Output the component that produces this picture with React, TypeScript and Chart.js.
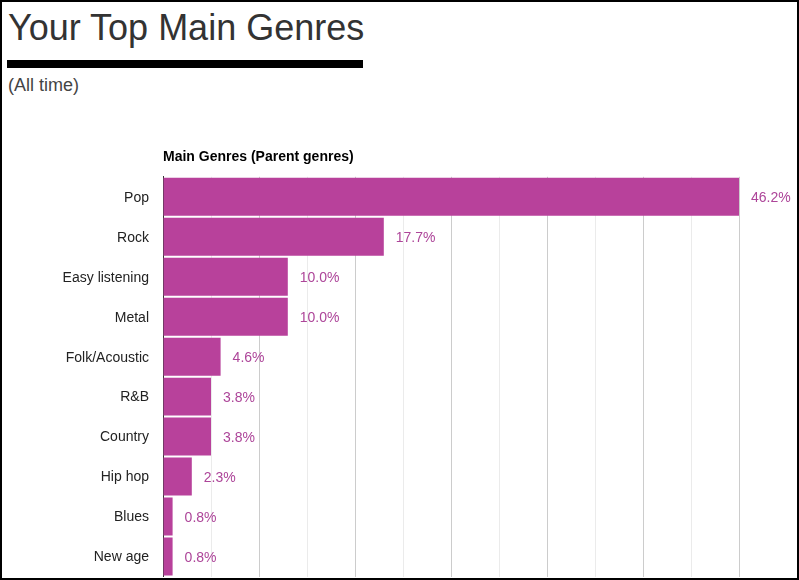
import React, { useEffect, useRef } from "react";
import { Chart, registerables } from "chart.js";

Chart.register(...registerables);

const genres = [
  "Pop",
  "Rock",
  "Easy listening",
  "Metal",
  "Folk/Acoustic",
  "R&B",
  "Country",
  "Hip hop",
  "Blues",
  "New age",
];
const counts = [60, 23, 13, 13, 6, 5, 5, 3, 1, 1];
const axisMax = 60;
const axisStep = 5;

const FONT = '"Liberation Sans", Arial, Helvetica, sans-serif';
const BAR_COLOR = "#b8419b";
const LABEL_COLOR = "#ad4599";

export default function App() {
  const canvasRef = useRef<HTMLCanvasElement | null>(null);

  useEffect(() => {
    document.body.style.margin = "0";
    const canvas = canvasRef.current;
    if (!canvas) return;
    const total = counts.reduce((a, b) => a + b, 0);
    const pctLabels = counts.map((c) => ((c / total) * 100).toFixed(1) + "%");

    const valueLabels = {
      id: "valueLabels",
      afterDatasetsDraw(chart: any) {
        const ctx = chart.ctx;
        const meta = chart.getDatasetMeta(0);
        ctx.save();
        ctx.font = `14px ${FONT}`;
        ctx.fillStyle = LABEL_COLOR;
        ctx.textAlign = "left";
        ctx.textBaseline = "middle";
        meta.data.forEach((el: any, i: number) => {
          ctx.fillText(pctLabels[i], el.x + 12, el.y + 1.5);
        });
        ctx.restore();
      },
    };

    const chart = new Chart(canvas, {
      type: "bar",
      data: {
        labels: genres,
        datasets: [
          {
            data: counts,
            backgroundColor: BAR_COLOR,
            borderWidth: 0,
            barPercentage: 1,
            categoryPercentage: 0.95,
          },
        ],
      },
      options: {
        indexAxis: "y",
        responsive: false,
        animation: false,
        layout: { padding: { left: 0, right: 60, top: 0, bottom: 3.5 } },
        plugins: {
          legend: { display: false },
          tooltip: { enabled: false },
          title: {
            display: true,
            text: "Main Genres (Parent genres)",
            align: "start",
            fullSize: false,
            color: "#000",
            font: { family: FONT, size: 14, weight: "bold" },
            padding: { top: 9, bottom: 11 },
          },
        },
        scales: {
          x: {
            min: 0,
            max: axisMax,
            ticks: { stepSize: axisStep, display: false },
            grid: {
              drawTicks: false,
              color: (c: any) =>
                c.tick && c.tick.value % 10 === 0 ? "#cccccc" : "#ebebeb",
            },
            border: { display: false },
            afterFit: (s: any) => {
              s.height = 0;
              s.paddingLeft = 0;
              s.paddingRight = 0;
            },
          },
          y: {
            grid: { display: false, drawTicks: false },
            border: { display: true, color: "#333333", width: 1 },
            ticks: {
              color: "#222222",
              font: { family: FONT, size: 14 },
              padding: 14,
              labelOffset: 1,
              autoSkip: false,
            },
            afterFit: (s: any) => {
              s.width = 163;
              s.paddingTop = 0;
              s.paddingBottom = 0;
            },
          },
        },
      },
      plugins: [valueLabels],
    } as any);

    return () => chart.destroy();
  }, []);

  return (
    <div
      style={{
        position: "relative",
        width: 799,
        height: 580,
        overflow: "hidden",
        background: "#fff",
        fontFamily: FONT,
      }}
    >
      <div
        style={{
          position: "absolute",
          left: 8,
          top: 9.5,
          fontSize: 36,
          lineHeight: "36px",
          color: "#333",
          whiteSpace: "nowrap",
        }}
      >
        Your Top Main Genres
      </div>
      <div
        style={{
          position: "absolute",
          left: 7,
          top: 60,
          width: 356,
          height: 8,
          background: "#000",
        }}
      />
      <div
        style={{
          position: "absolute",
          left: 8,
          top: 75.5,
          fontSize: 18,
          lineHeight: "18px",
          color: "#444",
          whiteSpace: "nowrap",
        }}
      >
        (All time)
      </div>
      <canvas
        ref={canvasRef}
        width={799}
        height={440}
        style={{ position: "absolute", left: 0, top: 140, display: "block" }}
      />
      <div
        style={{
          position: "absolute",
          left: 0,
          top: 0,
          width: 799,
          height: 580,
          boxSizing: "border-box",
          border: "2px solid #000",
          pointerEvents: "none",
        }}
      />
    </div>
  );
}
